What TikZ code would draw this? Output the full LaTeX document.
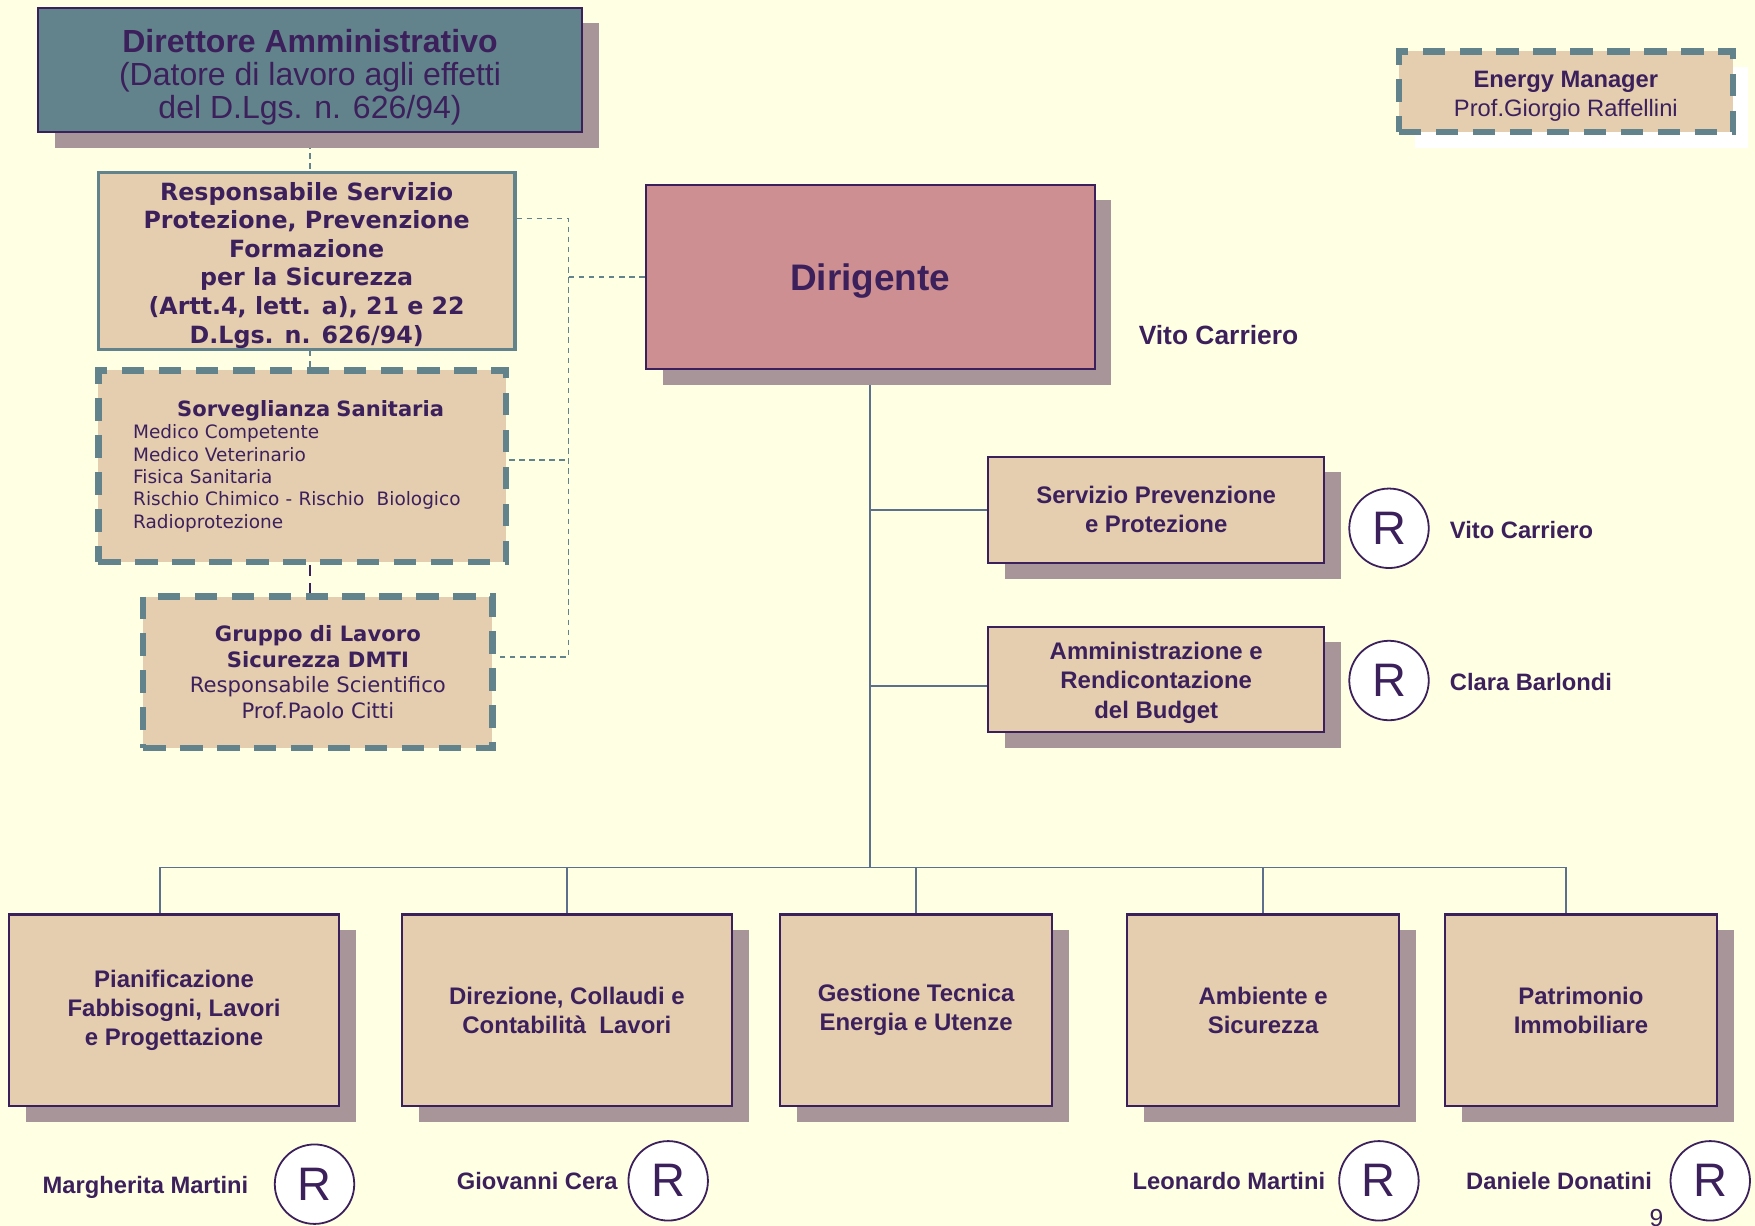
\documentclass[tikz,border=0pt]{standalone}
\usepackage{fontspec}
\setmainfont{Liberation Sans}
\newfontfamily\safetyfont{DejaVu Sans}
\usetikzlibrary{shadows,backgrounds}
\definecolor{bgc}{RGB}{255,255,227}
\definecolor{inkc}{RGB}{60,32,92}
\definecolor{tealc}{RGB}{98,131,140}
\definecolor{beigec}{RGB}{229,206,176}
\definecolor{pinkc}{RGB}{205,143,145}
\definecolor{shadowc}{RGB}{168,149,154}
\definecolor{linkc}{RGB}{92,112,142}
\tikzset{
	orgbox/.style={draw=inkc, line width=1pt, fill=beigec, inner sep=0pt, align=center, text=inkc,
		font=\fontsize{10.7}{13}\selectfont\bfseries,
		drop shadow={shadow xshift=7.5pt, shadow yshift=-7pt, fill=shadowc, opacity=1}},
	safebox/.style={draw=tealc, line width=1.5pt, fill=beigec, inner sep=0pt, align=center, text=inkc,
		font=\safetyfont\fontsize{10.6}{12.8}\selectfont\bfseries},
	dashbox/.style={draw=tealc, line width=2.75pt, dash pattern=on 10pt off 6.5pt, fill=beigec, inner sep=0pt, text=inkc},
	rmark/.style={circle, draw=inkc, line width=0.8pt, fill=white, minimum size=35.5pt, inner sep=0pt, text=inkc,
		font=\fontsize{21}{21}\selectfont},
	person/.style={text=inkc, inner sep=0pt, font=\fontsize{10.6}{12}\selectfont\bfseries},
	solidlink/.style={draw=linkc, line width=0.8pt},
	dashlink/.style={draw=tealc, line width=0.6pt, dash pattern=on 2.5pt off 2pt}
}

\begin{document}
\begin{tikzpicture}[x=0.5pt, y=-0.5pt]
	\useasboundingbox (0,0) rectangle (1568,1095);
	\begin{scope}[on background layer]
		\fill[bgc] (0,0) rectangle (1568,1095);
	\end{scope}

	\node[orgbox, fill=tealc, minimum width=243pt, minimum height=55.5pt, font=\fontsize{14.3}{14.75}\selectfont] (dir) at (277,62.5) {\rule{0pt}{16.5pt}\textbf{Direttore Amministrativo}\\(Datore di lavoro agli effetti\\del D.Lgs. n. 626/94)};
	\node[safebox, minimum width=186pt, minimum height=79pt] (rspp) at (274,233) {\rule{0pt}{12pt}Responsabile Servizio\\Protezione, Prevenzione\\Formazione\\per la Sicurezza\\(Artt.4, lett. a), 21 e 22\\D.Lgs. n. 626/94)};
	\node[dashbox, minimum width=182pt, minimum height=85.5pt, text width=151pt, align=left, font=\safetyfont\fontsize{8.25}{10}\selectfont] (sorv) at (270,416.5) {\makebox[\linewidth]{\hspace{7.5pt}\fontsize{9.4}{10.5}\selectfont\bfseries Sorveglianza Sanitaria}\\Medico Competente\\Medico Veterinario\\Fisica Sanitaria\\Rischio Chimico - Rischio~~Biologico\\Radioprotezione};
	\node[dashbox, minimum width=156pt, minimum height=67.5pt, align=center, font=\safetyfont\fontsize{9.45}{11.5}\selectfont] (gruppo) at (284,600.5) {\textbf{Gruppo di Lavoro}\\\textbf{Sicurezza DMTI}\\Responsabile Scientifico\\Prof.Paolo Citti};

	\node[orgbox, fill=pinkc, minimum width=200.5pt, minimum height=82.5pt, text depth=0pt, font=\fontsize{16.5}{18}\selectfont\bfseries] (dirig) at (777.5,247.5) {Dirigente};
	\node[person, anchor=base west, font=\fontsize{11.8}{13}\selectfont\bfseries] (vito) at (1017,307.5) {Vito Carriero};

	\node[dashbox, minimum width=149pt, minimum height=36pt, align=center, font=\fontsize{10.6}{13}\selectfont,
		drop shadow={shadow xshift=7pt, shadow yshift=-7pt, fill=white, opacity=1}] (energy) at (1399,82) {\rule{0pt}{11.1pt}\textbf{Energy Manager}\\Prof.Giorgio Raffellini};

	\node[orgbox, minimum width=150pt, minimum height=47.5pt] (serv) at (1033,455.5) {Servizio Prevenzione\\e Protezione};
	\node[rmark] (rserv) at (1241,472) {R};
	\node[person, anchor=base west] (vitoserv) at (1295,481.5) {Vito Carriero};

	\node[orgbox, minimum width=150pt, minimum height=47pt] (amm) at (1033,607) {\rule{0pt}{10.8pt}Amministrazione e\\Rendicontazione\\del Budget};
	\node[rmark] (ramm) at (1241,608) {R};
	\node[person, anchor=base west] (clara) at (1295,616.5) {Clara Barlondi};

	\node[orgbox, minimum width=147.5pt, minimum height=85.5pt] (pian) at (155.5,902.5) {Pianificazione\\Fabbisogni, Lavori\\e Progettazione};
	\node[orgbox, minimum width=147.5pt, minimum height=85.5pt] (dire) at (506.5,902.5) {Direzione, Collaudi e\\Contabilità~~Lavori};
	\node[orgbox, minimum width=121.5pt, minimum height=85.5pt] (gest) at (818.5,902.5) {Gestione Tecnica\\Energia e Utenze};
	\node[orgbox, minimum width=121.5pt, minimum height=85.5pt] (amb) at (1128.5,902.5) {Ambiente e\\Sicurezza};
	\node[orgbox, minimum width=121.5pt, minimum height=85.5pt] (patr) at (1412.5,902.5) {Patrimonio\\Immobiliare};

	\node[rmark] (rpian) at (281,1058) {R};
	\node[person, anchor=base] (marg) at (130,1066.5) {Margherita Martini};
	\node[rmark] (rdire) at (597,1055) {R};
	\node[person, anchor=base] (giov) at (480,1062.5) {Giovanni Cera};
	\node[rmark] (ramb) at (1232,1055) {R};
	\node[person, anchor=base] (leon) at (1098,1062.5) {Leonardo Martini};
	\node[rmark] (rpatr) at (1528,1055) {R};
	\node[person, anchor=base] (dani) at (1393,1062.5) {Daniele Donatini};
	\node[text=inkc, anchor=north, inner sep=0pt, font=\fontsize{11}{12}\selectfont] (page) at (1480,1080) {9};

	\coordinate (sidetop) at (508,195);
	\coordinate (sidebot) at (508,587);
	\coordinate (bus) at (777.5,775);
	\begin{scope}[on background layer]
		\draw[dashlink] (dir.south) -- (dir.south |- rspp.north);
		\draw[dashlink] (dir.south |- rspp.south) -- (dir.south |- sorv.north);
		\draw[dashlink, draw=inkc, line width=0.8pt, dash pattern=on 5pt off 3pt] (dir.south |- sorv.south) -- (dir.south |- gruppo.north);
		\draw[dashlink] (rspp.east |- sidetop) -- (sidetop) -- (sidebot) -- (gruppo.east |- sidebot);
		\draw[dashlink] ([yshift=2.75pt]sorv.east) -- ([yshift=2.75pt]sorv.east -| sidetop);
		\draw[dashlink] (sidetop |- dirig.west) -- (dirig.west);

		\draw[solidlink] (dirig.south) -- (bus);
		\draw[solidlink] (dirig.south |- serv.west) -- (serv.west);
		\draw[solidlink] ([yshift=-3pt]dirig.south |- amm.west) -- ([yshift=-3pt]amm.west);
		\draw[solidlink] ([xshift=-6.25pt]pian.north) |- (bus) -| ([xshift=-6.75pt]patr.north);
		\draw[solidlink] (dire.north) -- (dire.north |- bus);
		\draw[solidlink] (gest.north) -- (gest.north |- bus);
		\draw[solidlink] (amb.north) -- (amb.north |- bus);
	\end{scope}
\end{tikzpicture}
\end{document}
